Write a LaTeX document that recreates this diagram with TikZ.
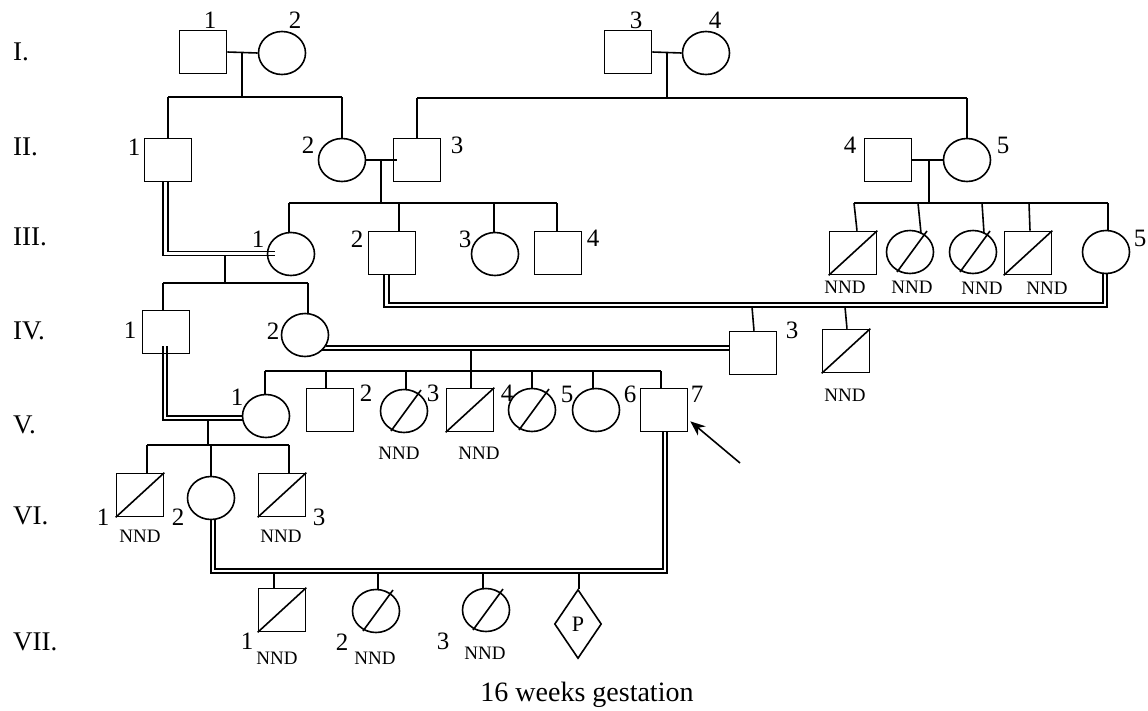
\documentclass[tikz,border=0pt]{standalone}
\usepackage{fontspec}
\setmainfont{Liberation Serif}
\usetikzlibrary{shapes.geometric,arrows.meta}
\begin{document}
\begin{tikzpicture}[x=1pt,y=-1pt,
  lin/.style={line width=1.6pt},
  dl/.style={line width=1.2pt},
  pbox/.style={draw,line width=1.6pt,rectangle,minimum width=47pt,minimum height=43pt,inner sep=0pt},
  pell/.style={draw,line width=1.6pt,ellipse,minimum width=47pt,minimum height=43pt,inner sep=0pt},
  pdia/.style={draw,line width=1.6pt,diamond,minimum width=47pt,minimum height=69pt,inner sep=0pt,font=\fontsize{22}{24}\selectfont},
  num/.style={font=\fontsize{25}{27}\selectfont,inner sep=0pt},
  nnd/.style={font=\fontsize{19}{21}\selectfont,inner sep=0pt},
  gen/.style={font=\fontsize{27}{29}\selectfont,inner sep=0pt,anchor=west},
  captext/.style={font=\fontsize{28}{30}\selectfont,inner sep=0pt},
]
\useasboundingbox (0,0) rectangle (1148,710);

% generation labels
\node[gen] (gI)   at (13,52)  {I.};
\node[gen] (gII)  at (13,147) {II.};
\node[gen] (gIII) at (13,237) {III.};
\node[gen] (gIV)  at (13,331) {IV.};
\node[gen] (gV)   at (13,425) {V.};
\node[gen] (gVI)  at (13,516) {VI.};
\node[gen] (gVII) at (13,642) {VII.};

% generation I
\node[pbox] (I1) at (203,52) {};
\node[pell] (I2) at (282,53) {};
\node[pbox] (I3) at (628,52) {};
\node[pell] (I4) at (706,53) {};
\node[num] (nI1) at (210,20) {1};
\node[num] (nI2) at (295,20) {2};
\node[num] (nI3) at (636,20) {3};
\node[num] (nI4) at (715,20) {4};

% generation II
\node[pbox] (II1) at (168,160) {};
\node[pell] (II2) at (342,160) {};
\node[pbox] (II3) at (417,160) {};
\node[pbox] (II4) at (888,160) {};
\node[pell] (II5) at (967,160) {};
\node[num] (nII1) at (134,147) {1};
\node[num] (nII2) at (308,145) {2};
\node[num] (nII3) at (457,145) {3};
\node[num] (nII4) at (850,145) {4};
\node[num] (nII5) at (1003,145) {5};

% generation III
\node[pell] (III1) at (291,254) {};
\node[pbox] (III2) at (392,253) {};
\node[pell] (III3) at (495,254) {};
\node[pbox] (III4) at (558,253) {};
\node[pbox] (R1) at (853,253) {};
\node[pell] (R2) at (910,252) {};
\node[pell] (R3) at (973,252) {};
\node[pbox] (R4) at (1028,253) {};
\node[pell] (III5) at (1106,252) {};
\node[num] (nIII1) at (258,239) {1};
\node[num] (nIII2) at (357,239) {2};
\node[num] (nIII3) at (465,239) {3};
\node[num] (nIII4) at (593,238) {4};
\node[num] (nIII5) at (1140,238) {5};
\node[nnd] (dR1) at (845,287) {NND};
\node[nnd] (dR2) at (912,287) {NND};
\node[nnd] (dR3) at (982,288) {NND};
\node[nnd] (dR4) at (1047,288) {NND};

% generation IV
\node[pbox] (IV1) at (166,332) {};
\node[pell] (IV2) at (305,335) {};
\node[pbox] (IV3) at (753,353) {};
\node[pbox] (IVN) at (846,351) {};
\node[num] (nIV1) at (130,330) {1};
\node[num] (nIV2) at (273,331) {2};
\node[num] (nIV3) at (792,330) {3};
\node[nnd] (dIVN) at (845,395) {NND};

% generation V
\node[pell] (V1) at (266,416) {};
\node[pbox] (V2) at (330,410) {};
\node[pell] (V3) at (404,411) {};
\node[pbox] (V4) at (470,410) {};
\node[pell] (V5) at (532,410) {};
\node[pell] (V6) at (596,410) {};
\node[pbox] (V7) at (664,410) {};
\node[num] (nV1) at (237,397) {1};
\node[num] (nV2) at (366,393) {2};
\node[num] (nV3) at (433,393) {3};
\node[num] (nV4) at (507,393) {4};
\node[num] (nV5) at (567,394) {5};
\node[num] (nV6) at (630,394) {6};
\node[num] (nV7) at (697,394) {7};
\node[nnd] (dV3) at (399,453) {NND};
\node[nnd] (dV4) at (479,453) {NND};

% generation VI
\node[pbox] (VI1) at (140,495) {};
\node[pell] (VI2) at (211,498) {};
\node[pbox] (VI3) at (282,495) {};
\node[num] (nVI1) at (103,517) {1};
\node[num] (nVI2) at (178,517) {2};
\node[num] (nVI3) at (319,517) {3};
\node[nnd] (dVI1) at (140,536) {NND};
\node[nnd] (dVI3) at (281,536) {NND};

% generation VII
\node[pbox] (VII1) at (282,610) {};
\node[pell] (VII2) at (376,611) {};
\node[pell] (VII3) at (486,610) {};
\node[pdia] (VIIP) at (578,624) {P};
\node[num] (nVII1) at (247,641) {1};
\node[num] (nVII2) at (342,642) {2};
\node[num] (nVII3) at (443,641) {3};
\node[nnd] (dVII1) at (277,658) {NND};
\node[nnd] (dVII2) at (375,658) {NND};
\node[nnd] (dVII3) at (485,653) {NND};
\node[captext] (gest) at (587,695) {16 weeks gestation};

% slashes (deceased)
\foreach \b in {R1,R4,IVN,V4,VI1,VI3,VII1}
  \draw[lin] (\b.south west) -- (\b.north east);
\foreach \e in {R2,R3,V3,V5,VII2,VII3}
  \draw[lin] ([shift={(-13,20)}]\e.center) -- ([shift={(17,-21)}]\e.center);

% I-1 x I-2
\draw[lin] (I1.east) -- (I2.west);
\coordinate (m12) at (242,52);
\coordinate (s12) at (242,97);
\draw[lin] (m12) -- (s12);
\draw[lin] (168,97) -- (342,97);
\draw[lin] (168,97) -- (II1.north);
\draw[lin] (342,97) -- (II2.north);

% I-3 x I-4
\draw[lin] (I3.east) -- (I4.west);
\coordinate (m34) at (667,52);
\coordinate (s34) at (667,98);
\draw[lin] (m34) -- (s34);
\draw[lin] (417,98) -- (967,98);
\draw[lin] (417,98) -- (II3.north);
\draw[lin] (967,98) -- (II5.north);

% II-2 x II-3
\draw[lin] (II2.east) -- ([xshift=4pt]II3.west);
\coordinate (m23) at (381,160);
\coordinate (s23) at (381,203);
\draw[lin] (m23) -- (s23);
\draw[lin] (289,203) -- (557,203);
\draw[lin] (289,203) -- ([xshift=-2pt]III1.north);
\draw[lin] (399,203) -- ([xshift=7pt]III2.north);
\draw[lin] (494,203) -- ([xshift=-1pt]III3.north);
\draw[lin] (557,203) -- ([xshift=-1pt]III4.north);

% II-4 x II-5
\draw[lin] (II4.east) -- (II5.west);
\coordinate (m45) at (929,160);
\coordinate (s45) at (929,203);
\draw[lin] (m45) -- (s45);
\draw[lin] (854,203) -- (1108,203);
\draw[lin] (854,203) -- ([xshift=4pt]R1.north);
\draw[lin] (918,203) -- (921,233);
\draw[lin] (982,203) -- (984,233);
\draw[lin] (1029,203) -- ([xshift=2pt]R4.north);
\draw[lin] (1108,203) -- ([xshift=2pt]III5.north);

% II-1 x III-1 (consanguineous)
\draw[dl] ([xshift=-5pt]II1.south) |- (275,255.5);
\draw[dl] (II1.south) |- (275,251.5);
\coordinate (m11) at (225,255.5);
\coordinate (s11) at (225,283);
\draw[lin] (m11) -- (s11);
\draw[lin] (163,283) -- (308,283);
\draw[lin] (163,283) -- ([xshift=-3pt]IV1.north);
\draw[lin] (308,283) -- ([xshift=3pt]IV2.north);

% III-2 x III-5 (consanguineous)
\draw[dl] ([xshift=-8pt]III2.south) |- (1107,307) -- (1107,273);
\draw[dl] ([xshift=-3pt]III2.south) |- (1103,303) -- (1103,273);
\draw[lin] (752,307) -- ([xshift=1pt]IV3.north);
\draw[lin] (845,307) -- ([xshift=1pt]IVN.north);

% IV-2 x IV-3 (consanguineous)
\draw[dl] (326,346) -- (IV3.west |- 0,346);
\draw[dl] (322,350) -- (IV3.west |- 0,350);
\coordinate (mIV) at (471,350);
\coordinate (sIV) at (471,371);
\draw[lin] (mIV) -- (sIV);
\draw[lin] (265,371) -- (661,371);
\draw[lin] (265,371) -- ([xshift=-1pt]V1.north);
\draw[lin] (326,371) -- ([xshift=-4pt]V2.north);
\draw[lin] (406,371) -- ([xshift=2pt]V3.north);
\draw[lin] (471,371) -- ([xshift=1pt]V4.north);
\draw[lin] (532,371) -- (V5.north);
\draw[lin] (593,371) -- ([xshift=-3pt]V6.north);
\draw[lin] (661,371) -- ([xshift=-3pt]V7.north);

% IV-1 x V-1 (consanguineous)
\draw[dl] (163,346) |- (243,420);
\draw[dl] (167,346) |- (243,416);
\coordinate (mV) at (208,420);
\coordinate (sV) at (208,445);
\draw[lin] (mV) -- (sV);
\draw[lin] (147,445) -- (289,445);
\draw[lin] (147,445) -- ([xshift=7pt]VI1.north);
\draw[lin] (211,445) -- (VI2.north);
\draw[lin] (289,445) -- ([xshift=7pt]VI3.north);

% VI-2 x V-7 (consanguineous)
\draw[dl] (VI2.south) |- (667,573) -- ([xshift=3pt]V7.south);
\draw[dl] ([xshift=4pt]VI2.south) |- (663,569) -- ([xshift=-1pt]V7.south);
\draw[lin] (274,573) -- ([xshift=-8pt]VII1.north);
\draw[lin] (378,573) -- ([xshift=2pt]VII2.north);
\draw[lin] (483,573) -- ([xshift=-3pt]VII3.north);
\draw[lin] (579,573) -- ([xshift=1pt]VIIP.north);

% proband arrow
\coordinate (arr) at (740,463);
\draw[lin,-{Stealth[length=15pt,width=12pt]}] (arr) -- ([shift={(2,-11)}]V7.south east);
\end{tikzpicture}
\end{document}
